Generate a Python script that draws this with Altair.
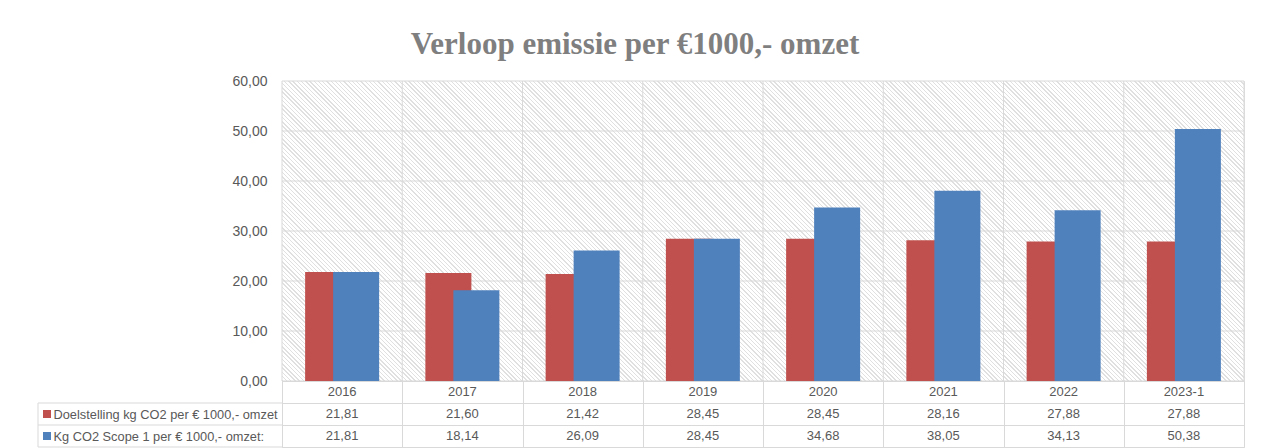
import math
import altair as alt
import pandas as pd

# ---------------- data ----------------
years = ["2016", "2017", "2018", "2019", "2020", "2021", "2022", "2023-1"]
doelstelling = [21.81, 21.60, 21.42, 28.45, 28.45, 28.16, 27.88, 27.88]
scope1 = [21.81, 18.14, 26.09, 28.45, 34.68, 38.05, 34.13, 50.38]
series = ["Doelstelling kg CO2 per € 1000,- omzet", "Kg CO2 Scope 1 per € 1000,- omzet:"]
y_ticks = [0, 10, 20, 30, 40, 50, 60]
title_text = "Verloop emissie per €1000,- omzet"

# ---------------- style ----------------
RED = "#c0504d"
BLUE = "#4f81bd"
GRID = "#d9d9d9"
TXT = "#595959"
HATCH = "#e0e0e0"
FONT = "Liberation Sans"
W, H = 962, 300
ROW_H = 22


def fmt(v):
    return f"{v:.2f}".replace(".", ",")


bars_df = pd.DataFrame({"year": years, "doel": doelstelling, "kg": scope1})
bg_df = pd.DataFrame({"year": years, "lo": y_ticks[0], "hi": y_ticks[-1]})
hgrid_df = pd.DataFrame({"v": y_ticks})

xscale = alt.Scale(paddingInner=0, paddingOuter=0)
yscale = alt.Scale(domain=[y_ticks[0], y_ticks[-1]], nice=False)
yaxis = alt.Axis(values=y_ticks, labelExpr="replace(format(datum.value, '.2f'), '.', ',')",
                 grid=False, domain=False, ticks=False, labelPadding=15,
                 labelFont=FONT, labelFontSize=14, labelColor=TXT, title=None)


def X(bp=None):
    kw = {} if bp is None else {"bandPosition": bp}
    return alt.X("year:N", sort=years, scale=xscale, axis=None, **kw)


def Y(field):
    return alt.Y(field, scale=yscale, axis=yaxis)


# diagonal hatch fill for plot background (per category cell)
cw, ch = W / len(years), H
vx, vy = 1 / ch, -1 / cw
t = (vx - vy) / (vx * vx + vy * vy)
gx2, gy2 = t * vx, 1 + t * vy
span = (cw + ch) / math.sqrt(2)
n = int(round(span / 3.0))
stops = []
for k in range(n):
    s = round(k / n, 5)
    e = round((k + 0.33) / n, 5)
    nx = round((k + 1) / n, 5)
    stops += [alt.GradientStop(color=HATCH, offset=s), alt.GradientStop(color=HATCH, offset=e),
              alt.GradientStop(color="#ffffff", offset=e), alt.GradientStop(color="#ffffff", offset=nx)]
hatch_fill = alt.Gradient(gradient="linear", stops=stops, x1=0, y1=1, x2=gx2, y2=gy2)

hatch = alt.Chart(bg_df).mark_rect(fill=hatch_fill, strokeWidth=0).encode(
    x=X(), y=Y("lo:Q"), y2="hi:Q")
hgrid = alt.Chart(hgrid_df).mark_rule(color=GRID, strokeWidth=1).encode(y=Y("v:Q"))
vgrid = alt.Chart(bars_df).mark_rule(color=GRID, strokeWidth=1).encode(x=X(0))
vgrid_end = alt.Chart(bars_df.tail(1)).mark_rule(color=GRID, strokeWidth=1).encode(x=X(1))
red_bars = alt.Chart(bars_df).mark_bar(width=46, xOffset=-14, color=RED).encode(x=X(), y=Y("doel:Q"))
blue_bars = alt.Chart(bars_df).mark_bar(width=46, xOffset=14, color=BLUE).encode(x=X(), y=Y("kg:Q"))

top = alt.layer(hatch, hgrid, vgrid, vgrid_end, red_bars, blue_bars).properties(width=W, height=H)

# ---------------- data table ----------------
rows = ["jaar"] + series
recs = []
for i, yr in enumerate(years):
    recs.append({"year": yr, "row": "jaar", "text": yr})
    recs.append({"year": yr, "row": series[0], "text": fmt(doelstelling[i])})
    recs.append({"year": yr, "row": series[1], "text": fmt(scope1[i])})
tbl = pd.DataFrame(recs)

tyscale = alt.Scale(domain=rows, paddingInner=0, paddingOuter=0)
tyaxis = alt.Axis(title=None, labelAlign="left", labelPadding=229, labelLimit=400,
                  ticks=False, domain=False, grid=True, tickBand="extent", gridColor=GRID,
                  labelFont=FONT, labelFontSize=12.8, labelColor=TXT,
                  labelExpr="datum.value == 'jaar' ? '' : datum.value")
txaxis = alt.Axis(title=None, labels=False, ticks=False, domain=False, grid=True,
                  tickBand="extent", gridColor=GRID)


def TY(bp=None):
    kw = {} if bp is None else {"bandPosition": bp}
    return alt.Y("row:N", sort=rows, scale=tyscale, axis=tyaxis, **kw)


TX = alt.X("year:N", sort=years, scale=xscale, axis=txaxis)

ser_df = pd.DataFrame({"row": series})
col_lines = alt.Chart(ser_df).mark_rule(color=GRID).encode(
    y=TY(0), x=alt.value(-244), x2=alt.value(0))
col_bottom = alt.Chart(ser_df.tail(1)).mark_rule(color=GRID).encode(
    y=TY(1), x=alt.value(-244), x2=alt.value(0))
col_left = alt.Chart(ser_df.tail(1)).mark_rule(color=GRID).encode(
    x=alt.value(-244), y=alt.value(ROW_H), y2=alt.value(3 * ROW_H))

cells = alt.Chart(tbl).mark_text(font=FONT, fontSize=13, color=TXT).encode(
    x=TX, y=TY(), text="text:N")
swatches = alt.Chart(ser_df).mark_point(shape="square", filled=True, size=64, opacity=1).encode(
    x=alt.value(-235), y=TY(),
    color=alt.Color("row:N", scale=alt.Scale(domain=series, range=[RED, BLUE]), legend=None))

table = alt.layer(col_lines, col_bottom, col_left, cells, swatches).properties(width=W, height=3 * ROW_H)

chart = alt.vconcat(
    top, table, spacing=0, bounds="flush",
    title=alt.TitleParams(text=title_text, font="Liberation Serif", fontSize=31, fontWeight="bold",
                          color="#7f7f7f", anchor="middle", offset=13, dx=-6),
).resolve_scale(x="independent", y="independent", color="independent").properties(
    padding={"left": 29, "top": 20, "right": 5, "bottom": 5}
).configure_view(stroke=GRID).configure(background="white")

chart.save("out.html", embed_options={"renderer": "svg", "actions": False})
